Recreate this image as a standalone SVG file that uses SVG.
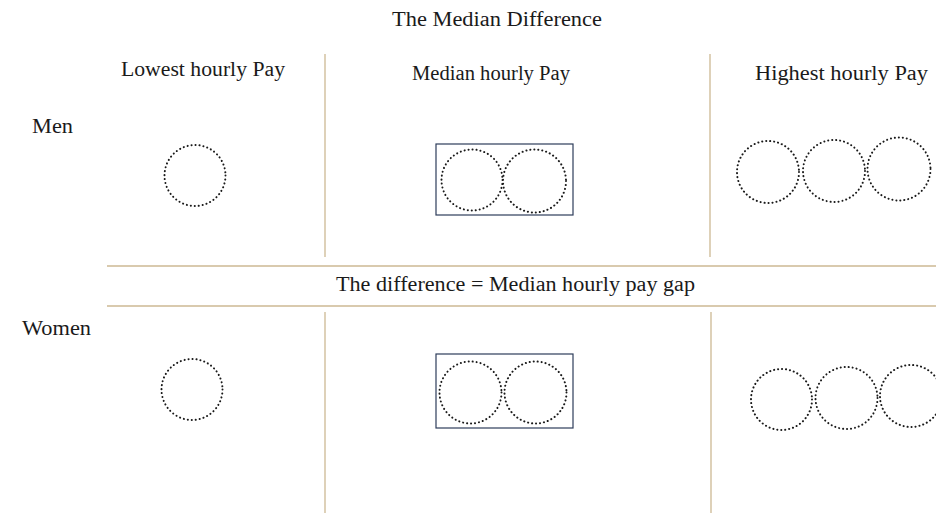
<svg xmlns="http://www.w3.org/2000/svg" width="936" height="513" viewBox="0 0 936 513">
<style>
text{font-family:"Liberation Serif","DejaVu Serif",serif;font-size:20px;fill:#1a1a1a}
.sep{stroke:#cdb993;stroke-width:1.3;fill:none}
.dot{fill:none;stroke:#1a1a1a;stroke-width:2;stroke-linecap:round;stroke-dasharray:0.1 3.9}
.box{fill:none;stroke:#2e3d5a;stroke-width:1.2}
</style>
<rect width="936" height="513" fill="#fff"/>
<g id="connectors">
<line class="sep" x1="325" y1="54" x2="325" y2="257"/>
<line class="sep" x1="710" y1="54" x2="710" y2="257"/>
<line class="sep" x1="325" y1="312" x2="325" y2="513"/>
<line class="sep" x1="711" y1="312" x2="711" y2="513"/>
<line class="sep" x1="107" y1="266" x2="936" y2="266"/>
<line class="sep" x1="107" y1="306" x2="936" y2="306"/>
</g>
<g id="title"><text x="392" y="26" textLength="210" lengthAdjust="spacingAndGlyphs">The Median Difference</text></g>
<g id="col-lowest"><text x="121" y="76" textLength="164" lengthAdjust="spacingAndGlyphs">Lowest hourly Pay</text></g>
<g id="col-median"><text x="412" y="80" textLength="158" lengthAdjust="spacingAndGlyphs">Median hourly Pay</text></g>
<g id="col-highest"><text x="755" y="80" textLength="173" lengthAdjust="spacingAndGlyphs">Highest hourly Pay</text></g>
<g id="row-men"><text x="32" y="133" textLength="41" lengthAdjust="spacingAndGlyphs">Men</text></g>
<g id="row-women"><text x="22" y="335" textLength="69" lengthAdjust="spacingAndGlyphs">Women</text></g>
<g id="gap-label"><text x="336" y="291" textLength="359" lengthAdjust="spacingAndGlyphs">The difference = Median hourly pay gap</text></g>
<g id="men-lowest"><circle class="dot" cx="195" cy="175.5" r="30.5"/></g>
<g id="men-median">
<rect class="box" x="436" y="144" width="137" height="71"/>
<circle class="dot" cx="472" cy="180" r="30.5"/>
<circle class="dot" cx="534.5" cy="181" r="31.5"/>
</g>
<g id="men-highest">
<circle class="dot" cx="768" cy="172" r="31"/>
<circle class="dot" cx="834" cy="171" r="31"/>
<circle class="dot" cx="899" cy="169" r="31.5"/>
</g>
<g id="women-lowest"><circle class="dot" cx="192" cy="389.5" r="30.5"/></g>
<g id="women-median">
<rect class="box" x="436" y="354" width="137" height="74"/>
<circle class="dot" cx="470.5" cy="392.5" r="31"/>
<circle class="dot" cx="535.5" cy="392.5" r="31"/>
</g>
<g id="women-highest">
<circle class="dot" cx="781.5" cy="399.5" r="30.5"/>
<circle class="dot" cx="846.5" cy="398" r="31"/>
<circle class="dot" cx="911" cy="396" r="31"/>
</g>
</svg>
